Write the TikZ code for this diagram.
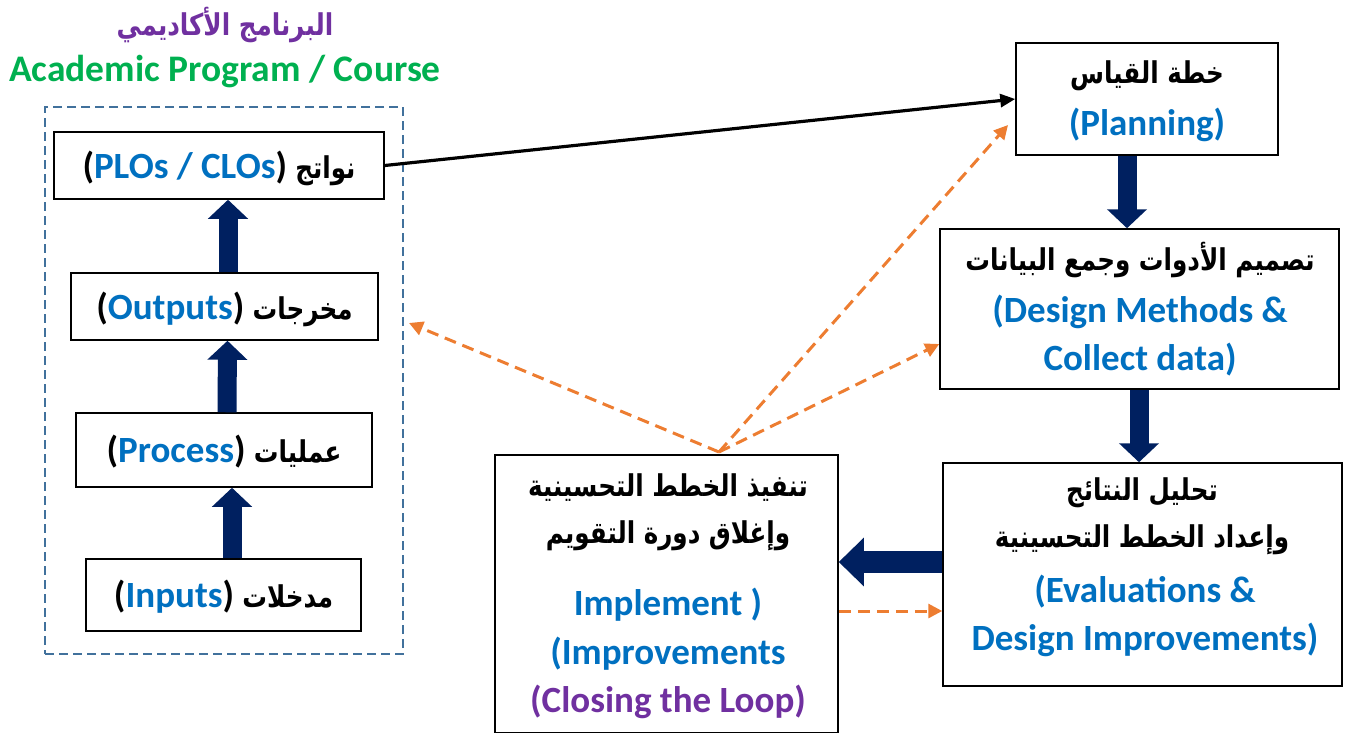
\documentclass[tikz,border=0pt]{standalone}
\usepackage{fontspec}
\usetikzlibrary{arrows.meta}
\setmainfont{Carlito}
\newfontfamily\arabicfont[Script=Arabic,FakeStretch=0.82]{DejaVu Sans}
\TeXXeTstate=1
\definecolor{tblue}{HTML}{0070C0}
\definecolor{tpurple}{HTML}{7030A0}
\definecolor{tgreen}{HTML}{00B050}
\definecolor{navy}{HTML}{002060}
\definecolor{orng}{HTML}{ED7D31}
\definecolor{steel}{HTML}{41719C}
\newcommand{\ar}[1]{{\arabicfont\bfseries\fontsize{30}{34}\selectfont\beginR #1\endR}}
\tikzset{
  box/.style={draw=black, line width=1.5pt, fill=white, inner sep=0pt},
  txt/.style={inner sep=0pt, font=\bfseries\fontsize{37}{42}\selectfont, text=tblue},
  atxt/.style={inner sep=0pt, text=black},
  blockup/.style={draw=navy, line width=19pt, -{Triangle[length=19pt,width=39pt]}},
  orarrow/.style={draw=orng, line width=3pt, dash pattern=on 12pt off 7pt, -{Triangle[length=14pt,width=14pt]}},
}
\begin{document}
\begin{tikzpicture}[x=1pt,y=-1pt]
\useasboundingbox (0,0) rectangle (1345,732);
% titles
\node[atxt, text=tpurple] (ttlar) at (225,25) {\ar{البرنامج الأكاديمي}};
\node[txt, text=tgreen, font=\bfseries\fontsize{37.5}{42}\selectfont] (ttlen) at (225,72) {Academic Program / Course};
% dashed container
\node[draw=steel, line width=1.8pt, dash pattern=on 9pt off 5pt, minimum width=358pt, minimum height=547pt, inner sep=0pt] (prog) at (224,380.5) {};
% left boxes
\node[box, minimum width=330pt, minimum height=67pt] (plo) at (219,165.5) {};
\node[box, minimum width=307pt, minimum height=67pt] (out) at (224.5,306.5) {};
\node[box, minimum width=296pt, minimum height=74pt] (proc) at (224,450) {};
\node[box, minimum width=275pt, minimum height=72pt] (inp) at (223.5,595) {};
\node[txt] (plot) at (219,168) {\textcolor{black}{(}PLOs / CLOs\textcolor{black}{)} \textcolor{black}{\ar{نواتج}}};
\node[txt] (outt) at (224.5,309) {\textcolor{black}{(}Outputs\textcolor{black}{)} \textcolor{black}{\ar{مخرجات}}};
\node[txt] (proct) at (224,452) {\textcolor{black}{(}Process\textcolor{black}{)} \textcolor{black}{\ar{عمليات}}};
\node[txt] (inpt) at (223.5,597) {\textcolor{black}{(}Inputs\textcolor{black}{)} \textcolor{black}{\ar{مدخلات}}};
% right boxes
\node[box, minimum width=262pt, minimum height=112pt] (plan) at (1147,99) {};
\node[box, minimum width=399pt, minimum height=160pt] (des) at (1139.5,309) {};
\node[box, minimum width=399pt, minimum height=223pt] (eval) at (1142.5,574.5) {};
\node[box, minimum width=343pt, minimum height=278pt] (imp) at (666.5,594) {};
\node[atxt] (plana) at (1147,76) {\ar{خطة القياس}};
\node[txt] (plane) at (1147,125) {(Planning)};
\node[atxt] (desa) at (1140,260) {\ar{تصميم الأدوات وجمع البيانات}};
\node[txt] (dese1) at (1140,312) {(Design Methods \&};
\node[txt] (dese2) at (1140,360) {Collect data)};
\node[atxt] (evala1) at (1142,493) {\ar{تحليل النتائج}};
\node[atxt] (evala2) at (1142,540) {\ar{وإعداد الخطط التحسينية}};
\node[txt] (evale1) at (1145,592) {(Evaluations \&};
\node[txt] (evale2) at (1145,640) {Design Improvements)};
\node[atxt] (impa1) at (668,488) {\ar{تنفيذ الخطط التحسينية}};
\node[atxt] (impa2) at (668,536) {\ar{وإغلاق دورة التقويم}};
\node[txt] (impe1) at (668,605) {Implement )};
\node[txt] (impe2) at (668,654) {(Improvements};
\node[txt, text=tpurple] (impe3) at (668,702) {(Closing the Loop)};
% block arrows
\draw[blockup] ([xshift=8.5pt]inp.north) -- ([xshift=8pt]proc.south);
\draw[blockup] ([xshift=3pt]proc.north) -- ([xshift=3pt]out.south);
\draw[blockup] ([xshift=3.5pt]out.north) -- ([xshift=9pt]plo.south);
\draw[blockup] ([xshift=-20pt]plan.south) -- ([xshift=-12.5pt]des.north);
\draw[blockup] ([xshift=-0.5pt]des.south) -- ([xshift=-3.5pt]eval.north);
\draw[draw=navy, line width=22pt, -{Triangle[length=25pt,width=47pt]}] ([yshift=12.5pt]eval.west) -- ([yshift=32pt]imp.east);
% black arrow
\draw[draw=black, line width=3.2pt, -{Triangle[length=15pt,width=13pt]}] (plo.east) -- (plan.west);
% orange dashed
\coordinate (hub) at (719,452);
\coordinate (tOut) at (409,323);
\coordinate (tPlan) at (1008,125);
\draw[orarrow] (hub) -- (tOut);
\draw[orarrow] (hub) -- (tPlan);
\draw[orarrow] (hub) -- ([yshift=-35pt]des.west);
\draw[orarrow] ([yshift=-17pt]imp.east) -- ([yshift=-36.5pt]eval.west);
\end{tikzpicture}
\end{document}
